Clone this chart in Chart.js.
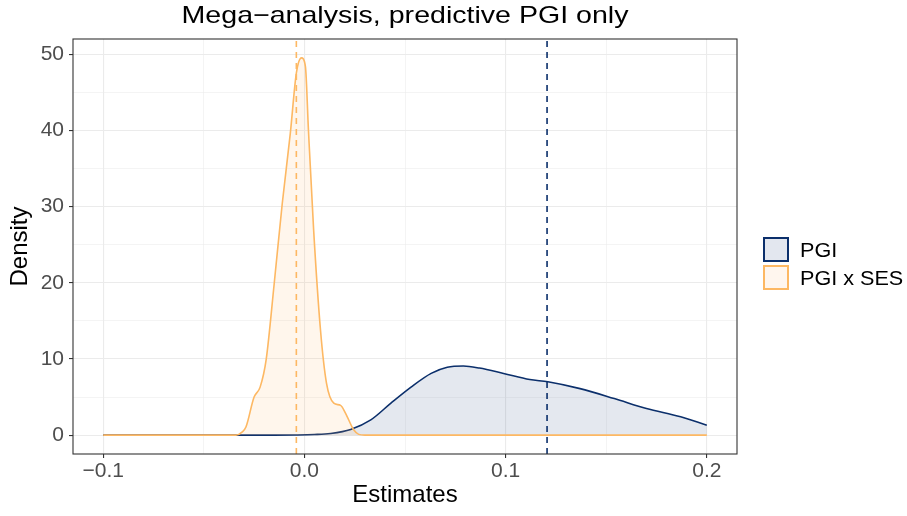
<!DOCTYPE html>
<html>
<head>
<meta charset="utf-8">
<script src="https://cdn.jsdelivr.net/npm/chart.js@4/dist/chart.umd.min.js"></script>
<style>
  html, body { margin: 0; padding: 0; background: #fff; }
  #wrap { position: relative; width: 907px; height: 516px; }
  #title { position: absolute; left: 405px; top: 3px; white-space: nowrap; font-family: "Liberation Sans", Arial, sans-serif; font-size: 24px; line-height: 1; color: #000; transform: translateX(-50%) scaleX(1.19); }
  #legend { position: absolute; left: 763px; top: 235px; font-family: "Liberation Sans", Arial, sans-serif; font-size: 20px; color: #000; }
  .row { display: flex; align-items: center; height: 28px; }
  .key { width: 26px; height: 25px; box-sizing: border-box; margin-right: 11px; flex: none; }
  .row span { display: inline-block; padding-top: 2px; transform: scaleX(1.08); transform-origin: left center; white-space: nowrap; }
</style>
</head>
<body>
<div id="wrap">
  <canvas id="chart" width="907" height="516"></canvas>
  <div id="title">Mega−analysis, predictive PGI only</div>
  <div id="legend"></div>
</div>
<script>
const seriesNames = ["PGI", "PGI x SES"];

const pgiX = [-0.1, -0.015, -0.005, 0.005, 0.013, 0.023, 0.033, 0.043, 0.053, 0.063, 0.071, 0.079, 0.087, 0.099, 0.112, 0.121, 0.137, 0.154, 0.170, 0.187, 0.2];
const pgiY = [0, 0, 0.02, 0.08, 0.22, 0.75, 2.0, 4.2, 6.3, 8.1, 8.9, 9.07, 8.8, 8.1, 7.3, 7.0, 6.1, 4.8, 3.5, 2.4, 1.3];

const sesX = [-0.1, -0.034, -0.031, -0.029, -0.025, -0.022, -0.019, -0.015, -0.011, -0.007, -0.004, -0.0015, 0.0005, 0.002, 0.0046, 0.008, 0.011, 0.0146, 0.018, 0.0204, 0.0245, 0.027, 0.03, 0.2];
const sesY = [0, 0, 0.4, 1.1, 5.0, 6.3, 9.9, 19.9, 30.4, 39.6, 47.5, 49.5, 48.4, 40.1, 26.9, 13.8, 6.8, 4.2, 3.9, 2.9, 0.7, 0.1, 0, 0];

const pgiMean = 0.1206;
const sesMean = -0.004;

const xMajor = [-0.1, 0, 0.1, 0.2];
const xLabels = ["\u22120.1", "0.0", "0.1", "0.2"];
const xMinor = [-0.05, 0.05, 0.15];
const yMajor = [0, 10, 20, 30, 40, 50];
const yLabels = ["0", "10", "20", "30", "40", "50"];
const yMinor = [5, 15, 25, 35, 45];

const xMin = -0.115, xMax = 0.215;
const yMin = -2.475, yMax = 51.98;

const navy = "#0b2f6b";
const orange = "#fdb863";

const toPoints = (xs, ys) => xs.map((x, i) => ({ x, y: ys[i] }));
const vline = (x) => [{ x, y: yMin }, { x, y: yMax }];

const tickFont = { family: "Liberation Sans", size: 21 };
const titleFont = { family: "Liberation Sans", size: 24 };

function gridSetup(major, minor, labels) {
  return {
    afterBuildTicks(scale) {
      scale.ticks = major.concat(minor).sort((a, b) => a - b).map((v) => ({ value: v }));
    },
    labelFor(v) {
      const i = major.findIndex((m) => Math.abs(m - v) < 1e-9);
      return i >= 0 ? labels[i] : "";
    },
    isMajor(v) {
      return major.some((m) => Math.abs(m - v) < 1e-9);
    },
  };
}

const xg = gridSetup(xMajor, xMinor, xLabels);
const yg = gridSetup(yMajor, yMinor, yLabels);

// ggplot's theme_bw draws a full box round the panel
const panelBorder = {
  id: "panelBorder",
  afterDatasetsDraw(chart) {
    const { ctx, chartArea: a } = chart;
    ctx.save();
    ctx.strokeStyle = "#333333";
    ctx.lineWidth = 1.1;
    ctx.strokeRect(a.left, a.top, a.right - a.left, a.bottom - a.top);
    ctx.restore();
  },
};

new Chart(document.getElementById("chart"), {
  type: "line",
  data: {
    datasets: [
      {
        label: seriesNames[1],
        data: toPoints(sesX, sesY),
        borderColor: orange,
        backgroundColor: "rgba(253,184,99,0.12)",
        fill: "origin",
        borderWidth: 1.6,
        pointRadius: 0,
        cubicInterpolationMode: "monotone",
        order: 1,
      },
      {
        label: seriesNames[0],
        data: toPoints(pgiX, pgiY),
        borderColor: navy,
        backgroundColor: "rgba(11,47,107,0.11)",
        fill: "origin",
        borderWidth: 1.6,
        pointRadius: 0,
        cubicInterpolationMode: "monotone",
        order: 2,
      },
      {
        label: "mean PGI",
        data: vline(pgiMean),
        borderColor: navy,
        borderWidth: 1.6,
        borderDash: [6, 5],
        pointRadius: 0,
        fill: false,
        order: 0,
      },
      {
        label: "mean PGI x SES",
        data: vline(sesMean),
        borderColor: orange,
        borderWidth: 1.6,
        borderDash: [6, 5],
        pointRadius: 0,
        fill: false,
        order: 0,
      },
    ],
  },
  options: {
    responsive: false,
    animation: false,
    layout: { padding: { left: 0, right: 170, top: 39, bottom: 0 } },
    plugins: {
      legend: { display: false },
      tooltip: { enabled: false },
      title: { display: false },
    },
    scales: {
      x: {
        type: "linear",
        min: xMin,
        max: xMax,
        afterBuildTicks: xg.afterBuildTicks,
        afterFit(scale) { scale.height = 62; },
        ticks: {
          autoSkip: false,
          maxRotation: 0,
          color: "#4d4d4d",
          font: tickFont,
          padding: 1,
          callback: (v) => xg.labelFor(v),
        },
        grid: {
          color: "#ebebeb",
          lineWidth: (c) => (c.tick && xg.isMajor(c.tick.value) ? 1.1 : 0.55),
          tickColor: (c) => (c.tick && xg.isMajor(c.tick.value) ? "#333333" : "rgba(0,0,0,0)"),
          tickLength: 4,
        },
        border: { display: false },
        title: { display: true, text: "Estimates", color: "#000", font: titleFont, padding: { top: 0, bottom: 6 } },
      },
      y: {
        type: "linear",
        min: yMin,
        max: yMax,
        afterBuildTicks: yg.afterBuildTicks,
        afterFit(scale) { scale.width = 73; },
        ticks: {
          autoSkip: false,
          color: "#4d4d4d",
          font: tickFont,
          padding: 5,
          callback: (v) => yg.labelFor(v),
        },
        grid: {
          color: "#ebebeb",
          lineWidth: (c) => (c.tick && yg.isMajor(c.tick.value) ? 1.1 : 0.55),
          tickColor: (c) => (c.tick && yg.isMajor(c.tick.value) ? "#333333" : "rgba(0,0,0,0)"),
          tickLength: 4,
        },
        border: { display: false },
        title: { display: true, text: "Density", color: "#000", font: titleFont, padding: { top: 6, bottom: 0 } },
      },
    },
  },
  plugins: [panelBorder],
});

const legendEl = document.getElementById("legend");
[
  { name: seriesNames[0], line: navy, fill: "#e3e7ef" },
  { name: seriesNames[1], line: orange, fill: "#fff6ee" },
].forEach((s) => {
  const row = document.createElement("div");
  row.className = "row";
  row.innerHTML = `<div class="key" style="border:2px solid ${s.line};background:${s.fill}"></div><span>${s.name}</span>`;
  legendEl.appendChild(row);
});
</script>
</body>
</html>
